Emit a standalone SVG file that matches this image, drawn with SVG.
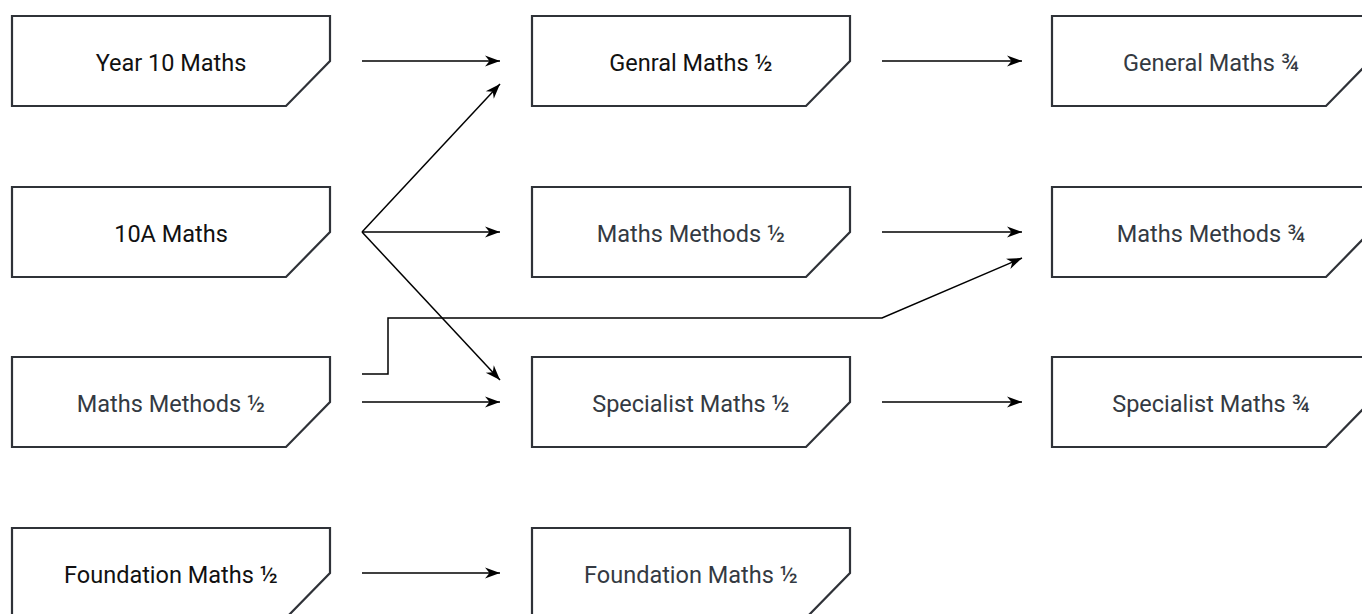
<svg xmlns="http://www.w3.org/2000/svg" width="1362" height="614" viewBox="0 0 1362 614">
<style>
.node polygon{fill:#fff;stroke:#2f3238;stroke-width:2.2;stroke-linejoin:miter}
.node text{font-family:Roboto,"Liberation Sans",sans-serif;font-size:23.5px;text-anchor:middle}
.dark{fill:#111}
.grey{fill:#343a42}
#connectors path{fill:none;stroke:#000;stroke-width:1.5;marker-end:url(#arrow)}
</style>
<defs>
<marker id="arrow" markerUnits="userSpaceOnUse" markerWidth="17" markerHeight="13" refX="15" refY="5.5" orient="auto" overflow="visible">
<path d="M0,0 L15,5.5 L0,11 L4.5,5.5 Z" fill="#000"/>
</marker>
</defs>
<rect width="1362" height="614" fill="#fff"/>
<g id="connectors">
<path d="M362,61 H500"/>
<path d="M362,232 L500,84"/>
<path d="M362,232 H500"/>
<path d="M362,232 L500,380"/>
<path d="M362,374 H388 V318 H882 L1022,258"/>
<path d="M362,402 H500"/>
<path d="M362,573 H500"/>
<path d="M882,61 H1022"/>
<path d="M882,232 H1022"/>
<path d="M882,402 H1022"/>
</g>
<g id="n-year10" class="node"><polygon points="12,16 330,16 330,61 286,106 12,106"/><text class="dark" x="171" y="71">Year 10 Maths</text></g>
<g id="n-10a" class="node"><polygon points="12,187 330,187 330,232 286,277 12,277"/><text class="dark" x="171" y="242">10A Maths</text></g>
<g id="n-mm12a" class="node"><polygon points="12,357 330,357 330,402 286,447 12,447"/><text class="grey" x="171" y="412">Maths Methods ½</text></g>
<g id="n-found12a" class="node"><polygon points="12,528 330,528 330,573 286,618 12,618"/><text class="dark" x="171" y="583">Foundation Maths ½</text></g>
<g id="n-gen12" class="node"><polygon points="532,16 850,16 850,61 806,106 532,106"/><text class="dark" x="691" y="71">Genral Maths ½</text></g>
<g id="n-mm12b" class="node"><polygon points="532,187 850,187 850,232 806,277 532,277"/><text class="grey" x="691" y="242">Maths Methods ½</text></g>
<g id="n-spec12" class="node"><polygon points="532,357 850,357 850,402 806,447 532,447"/><text class="grey" x="691" y="412">Specialist Maths ½</text></g>
<g id="n-found12b" class="node"><polygon points="532,528 850,528 850,573 806,618 532,618"/><text class="grey" x="691" y="583">Foundation Maths ½</text></g>
<g id="n-gen34" class="node"><polygon points="1052,16 1370,16 1370,61 1326,106 1052,106"/><text class="grey" x="1211" y="71">General Maths ¾</text></g>
<g id="n-mm34" class="node"><polygon points="1052,187 1370,187 1370,232 1326,277 1052,277"/><text class="grey" x="1211" y="242">Maths Methods ¾</text></g>
<g id="n-spec34" class="node"><polygon points="1052,357 1370,357 1370,402 1326,447 1052,447"/><text class="grey" x="1211" y="412">Specialist Maths ¾</text></g>
</svg>
